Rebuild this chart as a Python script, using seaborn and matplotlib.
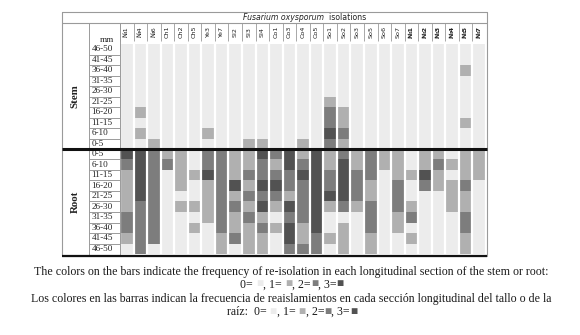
import numpy as np
import pandas as pd
import matplotlib
matplotlib.use("Agg")
import matplotlib.pyplot as plt
from matplotlib.colors import ListedColormap
from matplotlib.offsetbox import TextArea, HPacker, AnchoredOffsetbox
import seaborn as sns

# Isolates (columns); the last group is printed in bold
isolates = ["№1", "№4", "№6", "Ch1", "Ch2", "Ch5", "Ye3", "Ye7", "Sl2", "Sl3", "Sl4",
            "Co1", "Co3", "Co4", "Co5", "So1", "So2", "So3", "So5", "So6", "So7",
            "№1", "№2", "№3", "№4", "№5", "№7"]
bold_from = 21

stem_sections = ["46-50", "41-45", "36-40", "31-35", "26-30",
                 "21-25", "16-20", "11-15", "6-10", "0-5"]
root_sections = ["0-5", "6-10", "11-15", "16-20", "21-25",
                 "26-30", "31-35", "36-40", "41-45", "46-50"]

# Re-isolation frequency (0-3) per longitudinal section, stem
stem_freq = [
    [0, 0, 0, 0, 0, 0, 0, 0, 0, 0, 0, 0, 0, 0, 0, 0, 0, 0, 0, 0, 0, 0, 0, 0, 0, 0, 0],
    [0, 0, 0, 0, 0, 0, 0, 0, 0, 0, 0, 0, 0, 0, 0, 0, 0, 0, 0, 0, 0, 0, 0, 0, 0, 0, 0],
    [0, 0, 0, 0, 0, 0, 0, 0, 0, 0, 0, 0, 0, 0, 0, 0, 0, 0, 0, 0, 0, 0, 0, 0, 0, 1, 0],
    [0, 0, 0, 0, 0, 0, 0, 0, 0, 0, 0, 0, 0, 0, 0, 0, 0, 0, 0, 0, 0, 0, 0, 0, 0, 0, 0],
    [0, 0, 0, 0, 0, 0, 0, 0, 0, 0, 0, 0, 0, 0, 0, 0, 0, 0, 0, 0, 0, 0, 0, 0, 0, 0, 0],
    [0, 0, 0, 0, 0, 0, 0, 0, 0, 0, 0, 0, 0, 0, 0, 1, 0, 0, 0, 0, 0, 0, 0, 0, 0, 0, 0],
    [0, 1, 0, 0, 0, 0, 0, 0, 0, 0, 0, 0, 0, 0, 0, 2, 1, 0, 0, 0, 0, 0, 0, 0, 0, 0, 0],
    [0, 0, 0, 0, 0, 0, 0, 0, 0, 0, 0, 0, 0, 0, 0, 2, 1, 0, 0, 0, 0, 0, 0, 0, 0, 1, 0],
    [0, 1, 0, 0, 0, 0, 1, 0, 0, 0, 0, 0, 0, 0, 0, 3, 2, 0, 0, 0, 0, 0, 0, 0, 0, 0, 0],
    [0, 0, 1, 0, 0, 0, 0, 0, 0, 1, 1, 0, 0, 1, 0, 2, 1, 0, 0, 0, 0, 0, 0, 0, 0, 0, 0],
]

# Re-isolation frequency (0-3) per longitudinal section, root
root_freq = [
    [3, 3, 2, 1, 1, 0, 2, 2, 1, 1, 3, 2, 3, 1, 3, 1, 2, 1, 2, 1, 1, 0, 1, 1, 0, 1, 1],
    [2, 3, 2, 2, 1, 0, 2, 2, 1, 1, 2, 1, 3, 2, 3, 1, 3, 1, 2, 1, 1, 0, 1, 2, 1, 1, 1],
    [1, 3, 2, 0, 1, 1, 3, 2, 1, 2, 2, 2, 2, 3, 3, 2, 3, 2, 2, 0, 1, 1, 3, 1, 0, 1, 1],
    [1, 3, 2, 0, 1, 0, 1, 2, 3, 1, 3, 3, 2, 2, 3, 2, 3, 2, 1, 0, 2, 0, 2, 1, 1, 2, 0],
    [1, 3, 2, 0, 0, 0, 1, 2, 1, 2, 2, 2, 1, 2, 3, 3, 3, 2, 1, 0, 2, 0, 0, 0, 1, 1, 0],
    [1, 2, 2, 0, 1, 1, 1, 2, 2, 1, 3, 1, 3, 2, 3, 1, 2, 1, 2, 0, 2, 1, 0, 0, 1, 1, 0],
    [2, 2, 2, 0, 0, 0, 1, 2, 1, 2, 1, 0, 2, 2, 3, 0, 0, 0, 2, 0, 1, 2, 0, 0, 0, 2, 0],
    [2, 2, 2, 0, 0, 1, 0, 2, 1, 1, 2, 1, 3, 1, 3, 0, 1, 0, 2, 0, 1, 0, 0, 0, 0, 2, 0],
    [1, 2, 2, 0, 0, 0, 0, 1, 2, 1, 1, 0, 3, 1, 2, 1, 1, 0, 1, 0, 0, 1, 0, 0, 0, 1, 0],
    [0, 2, 0, 0, 0, 0, 0, 1, 0, 1, 1, 0, 2, 2, 2, 0, 1, 0, 1, 0, 0, 0, 0, 0, 0, 1, 0],
]

level_colors = ["#ececec", "#b0b0b0", "#7d7d7d", "#525252"]

sns.set_style("white")
plt.rcParams["font.family"] = ["Liberation Serif", "DejaVu Sans"]

W, H = 580, 335
fig = plt.figure(figsize=(W / 100, H / 100), dpi=100)


def box(x0, y0, x1, y1):
    return [x0 / W, 1 - y1 / H, (x1 - x0) / W, (y1 - y0) / H]


GX0, GX1 = 120, 486
STEM_Y = (44, 149)
ROOT_Y = (149, 254)
cmap = ListedColormap(level_colors)
ncol = len(isolates)

cols = [f"{i}_{name}" for i, name in enumerate(isolates)]
stem_df = pd.DataFrame(stem_freq, index=stem_sections, columns=cols)
root_df = pd.DataFrame(root_freq, index=root_sections, columns=cols)

for df, (y0, y1) in [(stem_df, STEM_Y), (root_df, ROOT_Y)]:
    ax = fig.add_axes(box(GX0, y0, GX1, y1))
    sns.heatmap(df, ax=ax, cmap=cmap, vmin=-0.5, vmax=3.5, cbar=False,
                xticklabels=False, yticklabels=False)
    ax.vlines(np.arange(0, ncol + 1), 0, len(df), color="white", lw=1.6)
    ax.set_xlim(0, ncol)
    ax.set_xlabel("")
    ax.set_ylabel("")
    for s in ax.spines.values():
        s.set_visible(False)

    # section labels column
    lab = fig.add_axes(box(89, y0, GX0, y1))
    lab.set_xlim(0, 1)
    lab.set_ylim(len(df), 0)
    lab.axis("off")
    for i, sec in enumerate(df.index):
        lab.text(0.08, i + 0.5, sec, ha="left", va="center", fontsize=6.6,
                 color="#222222")
        lab.hlines(i + 1, 0, 1, color="#9a9a9a", lw=0.7)

# column header with isolate names
head = fig.add_axes(box(GX0, 23, GX1, 43))
head.set_xlim(0, ncol)
head.set_ylim(0, 1)
head.axis("off")
for i, name in enumerate(isolates):
    head.text(i + 0.5, 0.55, name, rotation=90, ha="center", va="center",
              fontsize=4.6, family=["DejaVu Sans"],
              fontweight="bold" if i >= bold_from else "normal", color="#222222")
head.vlines(np.arange(0, ncol + 1), 0.1, 1, color="#9a9a9a", lw=0.6)

# table frame and section rules
over = fig.add_axes([0, 0, 1, 1], zorder=5)
over.set_xlim(0, W)
over.set_ylim(H, 0)
over.axis("off")
over.patch.set_alpha(0)
frame = "#9a9a9a"
over.plot([62, 487, 487, 62, 62], [12, 12, 256, 256, 12], color=frame, lw=0.8)
over.plot([62, 487], [23, 23], color=frame, lw=0.8)
over.plot([89, 89], [23, 256], color=frame, lw=0.7)
over.plot([GX0, GX0], [23, 256], color=frame, lw=0.7)
over.plot([62, 487], [149, 149], color="#111111", lw=2.2, solid_capstyle="butt")
over.plot([62, 487], [255.5, 255.5], color="#111111", lw=1.6, solid_capstyle="butt")

over.text(100, 40, "mm", ha="left", va="center", fontsize=6.6, color="#222222")
over.text(75, (STEM_Y[0] + STEM_Y[1]) / 2, "Stem", rotation=90, ha="center",
          va="center", fontsize=7.8, fontweight="bold", color="#222222")
over.text(75, (ROOT_Y[0] + ROOT_Y[1]) / 2, "Root", rotation=90, ha="center",
          va="center", fontsize=7.8, fontweight="bold", color="#222222")

CAP = 8.6


def packed_line(parts, y, x=W / 2):
    areas = []
    for txt, color in parts:
        areas.append(TextArea(txt, textprops=dict(color=color, fontsize=CAP,
                                                  family=["Liberation Serif", "DejaVu Sans"])))
    pack = HPacker(children=areas, align="baseline", pad=0, sep=0)
    anchored = AnchoredOffsetbox(loc="center", child=pack, pad=0, borderpad=0,
                                 frameon=False, bbox_to_anchor=(x, y),
                                 bbox_transform=over.transData)
    over.add_artist(anchored)


# italic species name in the title row
title_parts = [TextArea("Fusarium oxysporum", textprops=dict(fontsize=5.6, style="italic",
                                                              family=["DejaVu Sans"], color="#222222")),
               TextArea("  isolations", textprops=dict(fontsize=5.6, family=["DejaVu Sans"],
                                                        color="#222222"))]
title_pack = HPacker(children=title_parts, align="baseline", pad=0, sep=0)
over.add_artist(AnchoredOffsetbox(loc="center", child=title_pack, pad=0, borderpad=0,
                                  frameon=False, bbox_to_anchor=(305, 17.5),
                                  bbox_transform=over.transData))

ink = "#1a1a1a"
key = [("0= ", ink), ("■", level_colors[0]), (", 1= ", ink), ("■", level_colors[1]),
       (", 2=", ink), ("■", level_colors[2]), (", 3=", ink), ("■", level_colors[3])]

over.text(291, 272, "The colors on the bars indicate the frequency of re-isolation in each "
          "longitudinal section of the stem or root:", ha="center", va="center",
          fontsize=CAP, color=ink)
packed_line(key, 284.5, x=292)
over.text(291, 299, "Los colores en las barras indican la frecuencia de reaislamientos en cada "
          "sección longitudinal del tallo o de la", ha="center", va="center",
          fontsize=CAP, color=ink)
packed_line([("raíz:  ", ink)] + key, 312, x=292)

fig.savefig("out.png", dpi=100)
